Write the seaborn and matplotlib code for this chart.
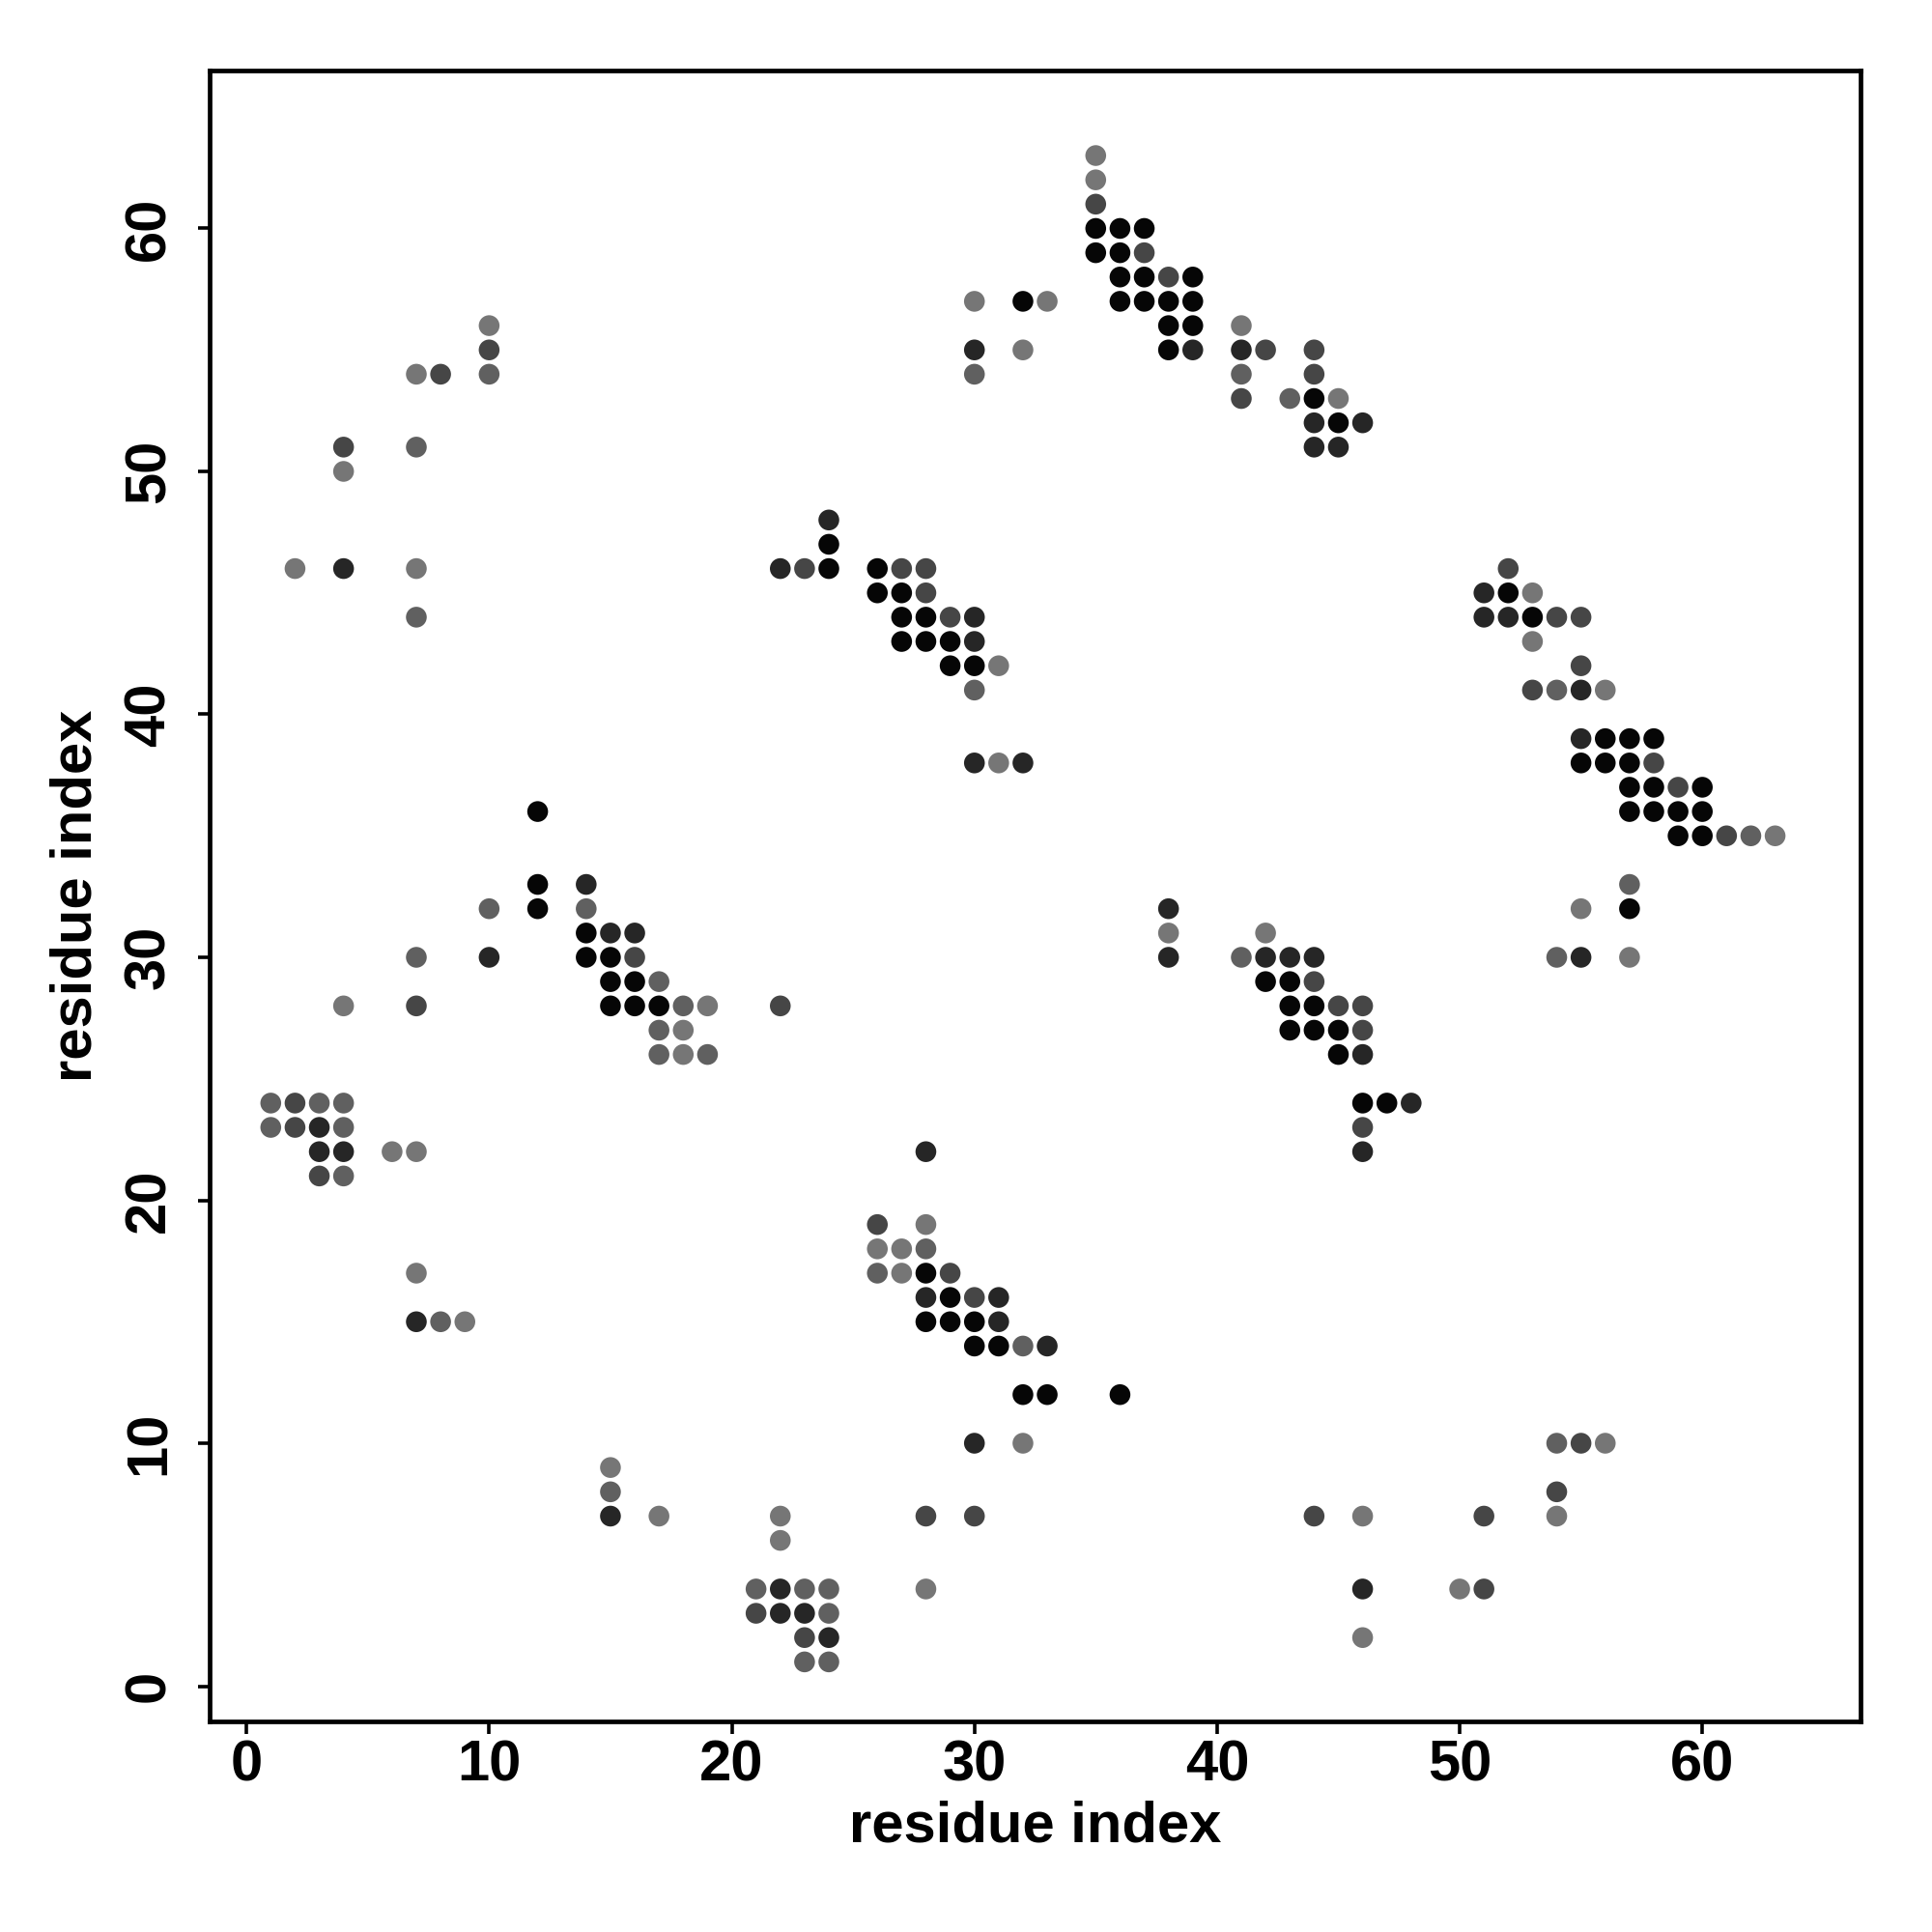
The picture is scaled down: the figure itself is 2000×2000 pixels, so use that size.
import numpy as np
import pandas as pd
import seaborn as sns
import matplotlib
matplotlib.use("Agg")
import matplotlib.pyplot as plt
from matplotlib.colors import LinearSegmentedColormap

# contact strength levels (K darkest ... G lightest)
LEVEL = {"K": 0.95, "D": 0.70, "M": 0.45, "L": 0.25, "G": 0.08}

contacts = [
    (2,46,"G"),(4,51,"M"),(4,50,"G"),(4,46,"D"),(7,54,"G"),(8,54,"M"),(10,56,"G"),(10,55,"M"),(10,54,"L"),
    (7,51,"L"),(7,46,"G"),(7,44,"L"),
    (12,36,"K"),(12,33,"K"),(14,33,"D"),(10,32,"L"),(12,32,"K"),(14,32,"L"),(14,31,"K"),(15,31,"D"),(16,31,"D"),
    (7,30,"L"),(10,30,"D"),(14,30,"K"),(15,30,"K"),(16,30,"M"),
    (15,29,"K"),(16,29,"K"),(17,29,"L"),
    (4,28,"G"),(7,28,"M"),(15,28,"K"),(16,28,"K"),(17,28,"K"),(18,28,"L"),(19,28,"G"),
    (17,27,"L"),(18,27,"G"),
    (17,26,"L"),(18,26,"G"),(19,26,"L"),
    (1,24,"L"),(2,24,"M"),(3,24,"L"),(4,24,"L"),
    (1,23,"L"),(2,23,"M"),(3,23,"D"),(4,23,"L"),
    (3,22,"D"),(4,22,"D"),(6,22,"G"),(7,22,"G"),
    (3,21,"M"),(4,21,"L"),
    (7,17,"G"),
    (7,15,"D"),(8,15,"L"),(9,15,"G"),
    (15,9,"G"),(15,8,"L"),(15,7,"D"),(17,7,"G"),
    (21,4,"L"),(22,4,"D"),(23,4,"L"),(24,4,"L"),(28,4,"G"),
    (21,3,"M"),(22,3,"D"),(23,3,"D"),(24,3,"L"),
    (23,2,"M"),(24,2,"D"),
    (23,1,"L"),(24,1,"L"),
    (22,7,"G"),(22,6,"G"),(28,7,"M"),(30,7,"M"),
    (30,10,"D"),(32,10,"G"),
    (32,12,"K"),(33,12,"K"),(36,12,"K"),
    (30,14,"K"),(31,14,"K"),(32,14,"L"),(33,14,"D"),
    (28,15,"K"),(29,15,"K"),(30,15,"K"),(31,15,"D"),
    (28,16,"D"),(29,16,"K"),(30,16,"M"),(31,16,"D"),
    (26,17,"L"),(27,17,"G"),(28,17,"K"),(29,17,"M"),
    (26,18,"G"),(27,18,"G"),(28,18,"L"),
    (26,19,"M"),(28,19,"G"),
    (28,22,"D"),
    (22,28,"M"),
    (38,32,"D"),(38,31,"G"),(38,30,"D"),
    (42,31,"G"),(41,30,"L"),(42,30,"D"),(43,30,"D"),(44,30,"D"),
    (42,29,"K"),(43,29,"K"),(44,29,"M"),
    (43,28,"K"),(44,28,"K"),(45,28,"M"),(46,28,"M"),
    (43,27,"K"),(44,27,"K"),(45,27,"K"),(46,27,"M"),
    (45,26,"K"),(46,26,"D"),
    (46,24,"K"),(47,24,"K"),(48,24,"D"),
    (46,23,"M"),(46,22,"D"),
    (54,30,"L"),(55,30,"D"),(57,30,"G"),(55,32,"G"),(57,32,"K"),(57,33,"L"),
    (59,35,"K"),(60,35,"K"),(61,35,"M"),(62,35,"L"),(63,35,"G"),
    (57,36,"K"),(58,36,"K"),(59,36,"K"),(60,36,"K"),
    (57,37,"K"),(58,37,"K"),(59,37,"M"),(60,37,"K"),
    (55,38,"K"),(56,38,"K"),(57,38,"K"),(58,38,"M"),
    (55,39,"D"),(56,39,"K"),(57,39,"K"),(58,39,"K"),
    (53,41,"M"),(54,41,"L"),(55,41,"D"),(56,41,"G"),
    (55,42,"M"),(53,43,"G"),
    (51,44,"D"),(52,44,"D"),(53,44,"K"),(54,44,"M"),(55,44,"M"),
    (51,45,"D"),(52,45,"K"),(53,45,"G"),
    (52,46,"M"),
    (54,10,"L"),(55,10,"M"),(56,10,"G"),(54,8,"M"),(54,7,"G"),(44,7,"M"),(46,7,"G"),(51,7,"M"),
    (46,4,"D"),(50,4,"G"),(51,4,"M"),(46,2,"G"),
    (24,48,"D"),(24,47,"K"),(22,46,"D"),(23,46,"M"),(24,46,"K"),(26,46,"K"),(27,46,"M"),(28,46,"M"),
    (26,45,"K"),(27,45,"K"),(28,45,"M"),
    (27,44,"K"),(28,44,"K"),(29,44,"M"),(30,44,"D"),
    (27,43,"K"),(28,43,"K"),(29,43,"K"),(30,43,"D"),
    (29,42,"K"),(30,42,"K"),(31,42,"G"),
    (30,41,"L"),
    (30,38,"D"),(31,38,"G"),(32,38,"D"),
    (35,63,"G"),(35,62,"G"),(35,61,"M"),
    (35,60,"K"),(36,60,"K"),(37,60,"K"),
    (35,59,"K"),(36,59,"K"),(37,59,"M"),
    (36,58,"K"),(37,58,"K"),(38,58,"M"),(39,58,"K"),
    (30,57,"G"),(32,57,"K"),(33,57,"G"),(36,57,"K"),(37,57,"K"),(38,57,"K"),(39,57,"K"),
    (38,56,"K"),(39,56,"K"),(41,56,"G"),
    (30,55,"D"),(32,55,"G"),(38,55,"K"),(39,55,"D"),(41,55,"D"),(42,55,"M"),(44,55,"M"),
    (30,54,"L"),(41,54,"L"),(44,54,"M"),
    (41,53,"M"),(43,53,"L"),(44,53,"K"),(45,53,"G"),
    (44,52,"D"),(45,52,"K"),(46,52,"D"),
    (44,51,"D"),(45,51,"D"),
]

res_i = [c[0] for c in contacts]
res_j = [c[1] for c in contacts]
prob = [LEVEL[c[2]] for c in contacts]

ticks = [0, 10, 20, 30, 40, 50, 60]

df = pd.DataFrame({"i": res_i, "j": res_j, "p": prob})

sns.set_theme(style="white")
plt.rcParams["font.family"] = ["Liberation Sans", "DejaVu Sans"]
plt.rcParams["font.weight"] = "bold"
plt.rcParams["text.color"] = "black"
plt.rcParams["axes.labelcolor"] = "black"
plt.rcParams["xtick.color"] = "black"
plt.rcParams["ytick.color"] = "black"

fig = plt.figure(figsize=(10, 10), dpi=200)
ax = fig.add_axes([0.1085, 0.109, 0.8545, 0.8545])

cmap = LinearSegmentedColormap.from_list("g", ["#808080", "#000000"])
sns.scatterplot(data=df, x="i", y="j", hue="p", palette=cmap, hue_norm=(0, 1),
                s=60, linewidth=0, legend=False, ax=ax)

ax.set_xlim(-1.52, 66.52)
ax.set_ylim(-1.45, 66.5)
ax.set_xticks(ticks)
ax.set_yticks(ticks)
ax.set_xticklabels([str(t) for t in ticks], fontsize=21.5, fontweight="bold", color="black")
ax.set_yticklabels([str(t) for t in ticks], fontsize=21.5, fontweight="bold", color="black",
                   rotation=90, va="center")
ax.tick_params(axis="both", direction="out", length=4.5, width=1.3, color="black",
               bottom=True, left=True, top=False, right=False)
ax.tick_params(axis="x", pad=2)
ax.tick_params(axis="y", pad=8)
for sp in ax.spines.values():
    sp.set_visible(True)
    sp.set_color("black")
    sp.set_linewidth(1.7)

ax.set_xlabel("residue index", fontsize=21.5, fontweight="bold", color="black")
ax.set_ylabel("residue index", fontsize=21.5, fontweight="bold", color="black")
ax.xaxis.set_label_coords(0.5, -0.064)
ax.xaxis.label.set_va("center")
ax.yaxis.set_label_coords(-0.081, 0.5)
ax.yaxis.label.set_va("center")

fig.savefig("out.png", dpi=200, facecolor="white")
